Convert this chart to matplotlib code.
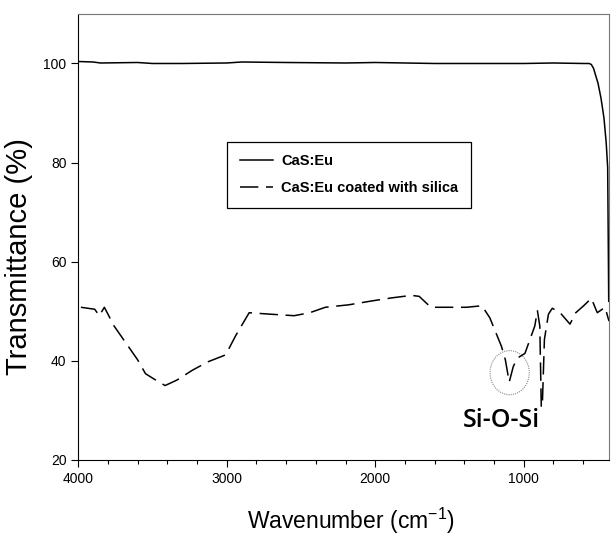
import matplotlib.pyplot as plt
from matplotlib.patches import Ellipse
from matplotlib.ticker import MultipleLocator

plt.rcParams['font.family'] = ['Liberation Sans', 'DejaVu Sans']
plt.rcParams['mathtext.default'] = 'regular'

# CaS:Eu (uncoated)
wn_bare = [4000, 3900, 3850, 3600, 3500, 3300, 3000, 2900, 2600, 2200, 2000, 1800,
           1600, 1300, 1000, 800, 600, 560, 545, 530, 515, 500, 480, 460, 445, 435, 428]
tr_bare = [100.4, 100.3, 100.1, 100.2, 100.0, 100.0, 100.1, 100.3, 100.2, 100.1, 100.2, 100.1,
           100.0, 100.0, 100.0, 100.1, 100.0, 100.0, 99.8, 99.0, 97.5, 96.0, 93.0, 89.0, 84.0, 79.0, 52.0]

# CaS:Eu coated with silica
wn_coat = [3982, 3889, 3858, 3824, 3758, 3679, 3600, 3547, 3494, 3415, 3336, 3231,
           3126, 3007, 2941, 2849, 2704, 2546, 2441, 2336, 2178, 2019, 1888, 1756,
           1704, 1651, 1625, 1519, 1387, 1282, 1229, 1150, 1124, 1098, 1071, 1045,
           992, 926, 908, 892, 882, 874, 861, 834, 808, 755, 689, 650, 597, 545,
           505, 453, 426]
tr_coat = [50.8, 50.4, 49.1, 50.8, 47.0, 43.6, 40.2, 37.4, 36.4, 35.0, 36.1, 38.1,
           39.8, 41.2, 45.0, 49.7, 49.4, 49.1, 49.7, 50.8, 51.3, 52.1, 52.7, 53.2,
           53.0, 51.5, 50.8, 50.8, 50.8, 51.1, 48.7, 42.9, 40.2, 35.7, 38.8, 40.5,
           41.5, 47.0, 50.1, 47.0, 30.6, 32.0, 44.3, 49.4, 50.6, 49.7, 47.4, 49.7,
           51.1, 52.6, 49.7, 50.8, 48.0]

fig = plt.figure(figsize=(6.11, 5.36), dpi=100)
ax = fig.add_axes([0.128, 0.142, 0.869, 0.832])

ax.plot(wn_bare, tr_bare, '-', color='black', lw=1.1, label='CaS:Eu')
ax.plot(wn_coat, tr_coat, color='black', lw=1.1, dashes=(12, 5),
        label='CaS:Eu coated with silica')

# marked Si-O-Si band
ax.add_patch(Ellipse((1095, 37.6), 264, 8.9, fill=False, ec='#888888',
                     lw=0.8, ls=(0, (1, 1))))
ax.text(1150, 27.9, 'Si-O-Si', fontsize=18, fontweight='semibold',
        family=['Open Sans', 'DejaVu Sans'], ha='center', va='center')

ax.set_xlim(4000, 425)
ax.set_ylim(20, 110)
ax.xaxis.set_major_locator(MultipleLocator(1000))
ax.xaxis.set_minor_locator(MultipleLocator(200))
ax.set_yticks([20, 40, 60, 80, 100])
ax.tick_params(axis='both', which='major', labelsize=10, length=5, width=0.8)
ax.tick_params(axis='x', which='minor', length=3, width=0.8)

for side in ['top', 'right']:
    ax.spines[side].set_color('#777777')
    ax.spines[side].set_linewidth(0.8)

ax.set_xlabel('Wavenumber (cm$^{-1}$)', fontsize=16.5)
ax.set_ylabel('Transmittance (%)', fontsize=21)
ax.xaxis.set_label_coords(0.514, -0.103)
ax.yaxis.set_label_coords(-0.085, 0.457)

leg = ax.legend(loc='upper left', bbox_to_anchor=(0.281, 0.713), borderaxespad=0,
                fancybox=False, edgecolor='black', framealpha=1,
                handlelength=2.3, handletextpad=0.55,
                prop={'weight': 'bold', 'size': 10.5},
                borderpad=0.85, labelspacing=0.9)
leg.get_frame().set_linewidth(0.9)

fig.savefig('out.png', dpi=100)
